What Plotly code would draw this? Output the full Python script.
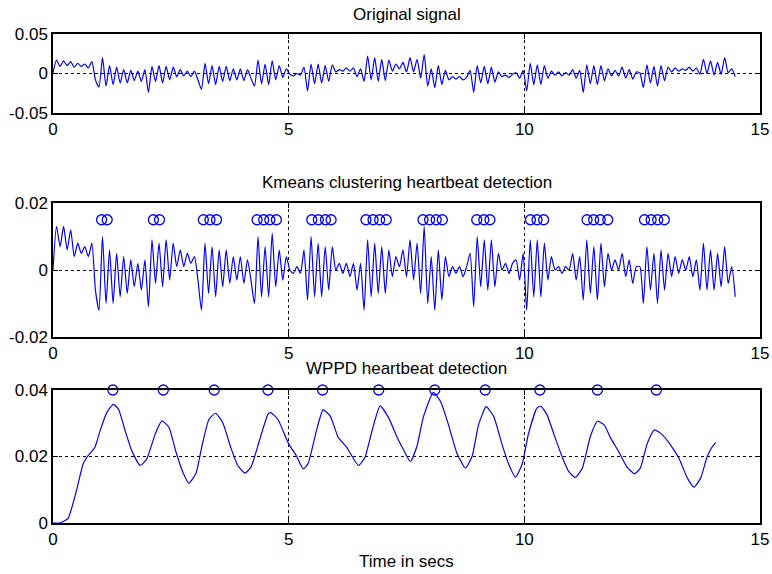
import numpy as np
import plotly.graph_objects as go

# ---------------- data ----------------
DT = 0.075  # sampling step of the digitised signals (s)

orig_signal = [
    .001, .017, .009, .016, .010, .015, .008, .013, .009, .012, .007, .015, -.008, -.017, .020, -.016,
    .010, -.014, .008, -.012, .005, -.012, .004, -.009, .003, -.010, .005, -.024, .009, -.010, .010, -.012,
    .009, -.008, .008, -.004, .005, -.003, .003, -.004, .003, -.008, -.020, .013, -.013, .010, -.014, .009,
    -.010, .009, -.009, .006, -.008, .006, -.009, .005, -.006, -.016, .017, -.013, .012, -.014, .016, -.008,
    .010, -.005, .006, -.001, -.003, .000, -.002, .008, -.022, .012, -.013, .012, -.012, .010, -.010, .011,
    .002, .005, .003, .007, .003, .007, -.004, .006, -.010, .022, -.008, .020, -.010, .018, -.009, .017,
    .003, .012, .006, .014, .002, .020, .002, .018, -.006, .024, -.016, .006, -.018, .010, -.014, .004,
    -.008, -.004, -.007, -.004, -.008, -.005, .004, -.024, .010, -.012, .009, -.013, .008, -.011, .002, -.004,
    -.002, -.005, -.001, .001, -.006, .004, -.022, .013, -.014, .011, -.014, .010, -.006, .003, -.002, .002,
    -.003, .001, -.002, .005, -.006, .004, -.024, .011, -.013, .010, -.014, .010, -.009, .006, -.003, .004,
    -.003, .008, -.006, .005, -.007, .002, .001, -.018, .011, -.012, .009, -.016, .010, -.009, .008, .002,
    .007, .003, .006, .004, .008, .003, .007, -.001, .018, .000, .016, -.002, .014, -.001, .020, .001,
    .006, -.004,
]

kmeans_signal = [
    .000, .013, .007, .013, .006, .012, .004, .008, .005, .007, .004, .008, -.006, -.012, .010, -.010,
    .006, -.010, .005, -.008, .004, -.007, .003, -.005, .002, -.006, .003, -.011, .009, -.004, .008, -.005,
    .009, -.003, .008, .001, .006, .001, .005, .002, .004, -.003, -.012, .008, -.007, .007, -.008, .006,
    -.005, .006, -.004, .004, -.003, .004, -.004, .003, -.003, -.010, .010, -.008, .007, -.008, .011, -.005,
    .006, -.003, .004, .000, -.001, .001, -.001, .006, -.009, .010, -.008, .008, -.008, .007, -.006, .007,
    .000, .002, -.001, .002, -.002, .002, -.006, .002, -.012, .009, -.008, .008, -.007, .007, -.007, .006,
    -.002, .004, .001, .006, -.002, .009, -.003, .008, -.007, .013, -.010, .004, -.012, .006, -.009, .004,
    -.002, .001, -.001, .001, -.002, .001, .005, -.011, .010, -.005, .009, -.006, .009, -.005, .005, .000,
    .002, -.001, .002, .003, -.003, .005, -.012, .009, -.008, .009, -.008, .008, -.003, .004, .000, .001,
    -.001, .001, .000, .005, -.003, .004, -.009, .009, -.007, .007, -.009, .008, -.005, .005, .000, .003,
    .000, .005, -.002, .003, -.004, .001, .001, -.010, .007, -.006, .005, -.010, .006, -.006, .005, -.002,
    .004, -.001, .003, .000, .004, -.002, .003, -.006, .008, -.006, .006, -.006, .005, -.005, .007, -.004,
    .001, -.008,
]

kmeans_beats_t = [1.03, 1.15, 2.13, 2.26, 3.19, 3.33, 3.47, 4.33, 4.47, 4.60, 4.74,
                  5.49, 5.63, 5.78, 5.90, 6.64, 6.79, 6.93, 7.07, 7.85, 7.99, 8.13, 8.26,
                  8.99, 9.14, 9.27, 10.13, 10.27, 10.41, 11.33, 11.47, 11.61, 11.77,
                  12.55, 12.69, 12.83, 12.97]
kmeans_beat_level = 0.015

wppd_t = [0, 0.15, 0.32, 0.50, 0.64, 0.73, 0.89, 1.00, 1.14, 1.28, 1.39, 1.53, 1.67, 1.85, 1.99,
          2.17, 2.31, 2.46, 2.60, 2.74, 2.88, 3.03, 3.17, 3.31, 3.45, 3.60, 3.77, 3.92, 4.07,
          4.20, 4.38, 4.56, 4.62, 4.77, 5.00, 5.16, 5.31, 5.41, 5.59, 5.73, 5.88, 6.05, 6.23,
          6.48, 6.62, 6.77, 6.94, 7.12, 7.30, 7.42, 7.58, 7.72, 7.86, 8.07, 8.22, 8.39, 8.57,
          8.75, 8.89, 9.03, 9.19, 9.35, 9.53, 9.66, 9.81, 9.95, 10.09, 10.27, 10.35, 10.48,
          10.62, 10.80, 10.94, 11.08, 11.23, 11.40, 11.55, 11.69, 11.83, 12.00, 12.18, 12.34,
          12.46, 12.61, 12.76, 12.93, 13.10, 13.28, 13.46, 13.60, 13.74, 13.88, 13.99, 14.06]
wppd_v = [0, 0, .0014, .0099, .0178, .0200, .0228, .0278, .0332, .0357, .0342, .0278, .0218, .0173, .0193,
          .0268, .0307, .0288, .0218, .0158, .0120, .0148, .0238, .0312, .0330, .0302, .0228, .0173, .0150,
          .0168, .0248, .0327, .0332, .0312, .0238, .0203, .0163, .0178, .0278, .0340, .0322, .0258, .0228,
          .0173, .0198, .0278, .0352, .0317, .0258, .0225, .0185, .0230, .0320, .0393, .0366, .0296, .0210,
          .0165, .0200, .0296, .0350, .0320, .0235, .0180, .0138, .0175, .0270, .0346, .0351, .0326,
          .0270, .0200, .0155, .0137, .0165, .0260, .0306, .0296, .0256, .0215, .0168, .0148,
          .0165, .0240, .0280, .0265, .0235, .0195, .0135, .0108, .0135, .0200, .0230, .0242]

wppd_beats_t = [1.27, 2.34, 3.42, 4.56, 5.72, 6.91, 8.10, 9.17, 10.33, 11.55, 12.80]
wppd_beat_level = 0.04

titles = ["Original signal", "Kmeans clustering heartbeat detection", "WPPD heartbeat detection"]
xlabel = "Time in secs"
x_ticks = [0, 5, 10, 15]
y1_ticks = [-0.05, 0, 0.05]
y1_text = ["-0.05", "0", "0.05"]
y2_ticks = [-0.02, 0, 0.02]
y2_text = ["-0.02", "0", "0.02"]
y3_ticks = [0, 0.02, 0.04]
y3_text = ["0", "0.02", "0.04"]

# ---------------- figure ----------------
BLUE = "#0000ff"
FONT = "Liberation Sans, Arial, Helvetica, sans-serif"
FS = 17

t_orig = np.arange(len(orig_signal)) * DT
t_km = np.arange(len(kmeans_signal)) * DT

fig = go.Figure()
fig.add_trace(go.Scatter(x=t_orig, y=orig_signal, mode="lines",
                         line=dict(color=BLUE, width=1.2, shape="spline", smoothing=0.6),
                         xaxis="x", yaxis="y", showlegend=False))
fig.add_trace(go.Scatter(x=t_km, y=kmeans_signal, mode="lines",
                         line=dict(color=BLUE, width=1.2, shape="spline", smoothing=0.6),
                         xaxis="x2", yaxis="y2", showlegend=False))
fig.add_trace(go.Scatter(x=kmeans_beats_t, y=[kmeans_beat_level] * len(kmeans_beats_t), mode="markers",
                         marker=dict(symbol="circle-open", size=10, color=BLUE, line=dict(width=1.3)),
                         xaxis="x2", yaxis="y2", showlegend=False, cliponaxis=False))
fig.add_trace(go.Scatter(x=wppd_t, y=wppd_v, mode="lines",
                         line=dict(color=BLUE, width=1.2, shape="spline", smoothing=0.5),
                         xaxis="x3", yaxis="y3", showlegend=False))
fig.add_trace(go.Scatter(x=wppd_beats_t, y=[wppd_beat_level] * len(wppd_beats_t), mode="markers",
                         marker=dict(symbol="circle-open", size=10, color=BLUE, line=dict(width=1.3)),
                         xaxis="x3", yaxis="y3", showlegend=False, cliponaxis=False))

W, H = 772, 574
ML, MR, MT, MB = 53, 12, 34, 51
PH = H - MT - MB


def yfrac(px):  # px: vertical pixel from the top of the figure
    return (H - MB - px) / PH


axis_common = dict(showline=True, linecolor="black", linewidth=1.5, mirror="ticks",
                   ticks="inside", ticklen=5, tickcolor="black", automargin=False,
                   showgrid=True, gridcolor="black", griddash="dot", gridwidth=1,
                   zeroline=False, tickfont=dict(family=FONT, size=FS, color="black"))

domains = [(yfrac(113), yfrac(34)), (yfrac(337), yfrac(203)), (yfrac(523), yfrac(390))]
yticks = [(y1_ticks, y1_text, [-0.05, 0.05]), (y2_ticks, y2_text, [-0.02, 0.02]), (y3_ticks, y3_text, [0, 0.04])]

layout = dict(width=W, height=H, margin=dict(l=ML, r=MR, t=MT, b=MB),
              paper_bgcolor="white", plot_bgcolor="white",
              font=dict(family=FONT, size=FS, color="black"))
for k in range(3):
    sx = "" if k == 0 else str(k + 1)
    layout["xaxis" + sx] = dict(axis_common, domain=[0, 1], range=[0, 15], tickvals=x_ticks,
                                anchor="y" + sx)
    tv, tt, rg = yticks[k]
    layout["yaxis" + sx] = dict(axis_common, domain=list(domains[k]), range=rg, tickvals=tv,
                                ticktext=tt, anchor="x" + sx)
fig.update_layout(**layout)

title_y = [14, 182, 368]
for k in range(3):
    fig.add_annotation(text=titles[k], xref="paper", yref="paper", x=0.5, y=yfrac(title_y[k]),
                       xanchor="center", yanchor="middle", showarrow=False,
                       font=dict(family=FONT, size=FS, color="black"))
fig.add_annotation(text=xlabel, xref="paper", yref="paper", x=0.5, y=yfrac(561),
                   xanchor="center", yanchor="middle", showarrow=False,
                   font=dict(family=FONT, size=FS, color="black"))

# remove the default 8 px page margin so the figure fills the window exactly
fig.write_html("out.html", config={"displayModeBar": False},
               post_script="document.body.style.margin='0';document.body.style.overflow='hidden';")
